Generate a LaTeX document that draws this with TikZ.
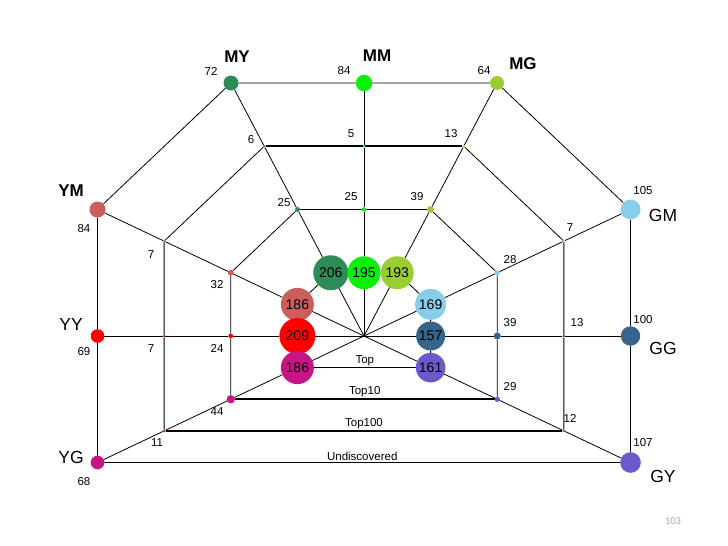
\documentclass[tikz,border=0pt]{standalone}
\usepackage{fontspec}
\setmainfont{Liberation Sans}
\newfontfamily\pgnumfont{Carlito}
\usetikzlibrary{calc,backgrounds}
\definecolor{cMY}{RGB}{46,139,87}
\definecolor{cMM}{RGB}{10,240,10}
\definecolor{cMG}{RGB}{154,205,50}
\definecolor{cYM}{RGB}{205,92,92}
\definecolor{cYY}{RGB}{255,0,0}
\definecolor{cYG}{RGB}{199,21,133}
\definecolor{cGM}{RGB}{135,206,235}
\definecolor{cGG}{RGB}{54,100,139}
\definecolor{cGY}{RGB}{106,90,205}
\definecolor{pggray}{RGB}{165,165,165}
\tikzset{
  ln/.style={line width=0.8pt},
  thk/.style={line width=1.7pt},
  ball/.style={circle, inner sep=0pt, outer sep=0pt},
  cnt/.style={font=\fontsize{11.5}{12}\selectfont, inner sep=0pt},
  lvl/.style={font=\fontsize{11.5}{12}\selectfont, inner sep=1.5pt},
  lbl/.style={font=\fontsize{17.5}{18}\selectfont, inner sep=0pt},
  lblb/.style={font=\bfseries\fontsize{17}{18}\selectfont, inner sep=0pt},
  bignum/.style={font=\fontsize{14}{15}\selectfont},
}
\newcommand\brnch[7]{%
  \node[ball,fill=#2,minimum size={2*#7pt}] (#14) at (p#1) {};
  \node[ball,fill=#2,minimum size={2*#6pt}] (#13) at ($(C)!0.75!(p#1)$) {};
  \node[ball,fill=#2,minimum size={2*#5pt}] (#12) at ($(C)!0.5!(p#1)$) {};
  \node[ball,fill=#2,minimum size={2*#3pt},bignum] (#11) at ($(C)!0.25!(p#1)$) {#4};
}
\begin{document}
\begin{tikzpicture}[x=1pt,y=-1pt]
\useasboundingbox (0,0) rectangle (728,546);
\coordinate (C) at (364,336);
\coordinate (pMY) at (231,83);
\coordinate (pMM) at (364,83);
\coordinate (pMG) at (497,83);
\coordinate (pYM) at (97.5,209.5);
\coordinate (pGM) at (630.5,209.5);
\coordinate (pYY) at (97.5,336);
\coordinate (pGG) at (630.5,336);
\coordinate (pYG) at (97.5,462.5);
\coordinate (pGY) at (630.5,462.5);

% branches: name, colour, r(Top), number, r(Top10), r(Top100), r(outer)
\brnch{MY}{cMY}{17.5}{206}{2.5}{1.4}{7.5}
\brnch{MM}{cMM}{16.5}{195}{2.3}{1.3}{8.2}
\brnch{MG}{cMG}{16.5}{193}{3.5}{1.5}{7}
\brnch{YM}{cYM}{16.5}{186}{3}{1.3}{8}
\brnch{YY}{cYY}{18}{209}{2.4}{1.3}{6.8}
\brnch{YG}{cYG}{16.5}{186}{4.2}{1.5}{6.8}
\brnch{GM}{cGM}{15.5}{169}{2.6}{1.3}{10}
\brnch{GG}{cGG}{14.5}{157}{3.5}{1.5}{9.7}
\brnch{GY}{cGY}{14.8}{161}{2.7}{1.5}{10.3}

\begin{pgfonlayer}{background}
  \foreach \b in {MY,MM,MG,YM,YY,YG,GM,GG,GY}
    \draw[ln] (C) -- (\b1) -- (\b2) -- (\b3) -- (\b4);
  \foreach \k in {1,2,4}
    \draw[ln] (YG\k) -- (YY\k) -- (YM\k) -- (MY\k) -- (MM\k) -- (MG\k) -- (GM\k) -- (GG\k) -- (GY\k);
  \draw[ln] (YG3) -- (YY3) -- (YM3) -- (MY3);
  \draw[thk] (MY3) -- (MM3) -- (MG3);
  \draw[ln] (MG3) -- (GM3) -- (GG3) -- (GY3);
  \draw[ln] (YG1) -- node[lvl,above] {Top} (GY1);
  \draw[thk] (YG2) -- node[lvl,above] {Top10} (GY2);
  \draw[thk] (YG3) -- node[lvl,above] {Top100} (GY3);
  \draw[ln] (YG4) -- node[lvl,above] {Undiscovered} (GY4);
\end{pgfonlayer}

% outer names
\node[lblb] (tMY) at (237,57) {MY};
\node[lblb] (tMM) at (377,56) {MM};
\node[lblb] (tMG) at (523,64) {MG};
\node[lblb] (tYM) at (71,191) {YM};
\node[lbl] (tGM) at (663,215) {GM};
\node[lbl] (tYY) at (71,324) {YY};
\node[lbl] (tGG) at (663,348) {GG};
\node[lbl] (tYG) at (71,457) {YG};
\node[lbl] (tGY) at (663,476) {GY};

% outer counts
\node[cnt] (cMY4) at (211,71) {72};
\node[cnt] (cMM4) at (344,71) {84};
\node[cnt] (cMG4) at (484,71) {64};
\node[cnt] (cYM4) at (84,229) {84};
\node[cnt] (cGM4) at (643,191) {105};
\node[cnt] (cYY4) at (84,352) {69};
\node[cnt] (cGG4) at (643,320) {100};
\node[cnt] (cYG4) at (84,482) {68};
\node[cnt] (cGY4) at (643,443) {107};

% Top100 counts
\node[cnt] (cMY3) at (251,140) {6};
\node[cnt] (cMM3) at (351,134) {5};
\node[cnt] (cMG3) at (451,134) {13};
\node[cnt] (cYM3) at (151,255) {7};
\node[cnt] (cGM3) at (570,228) {7};
\node[cnt] (cYY3) at (151,349) {7};
\node[cnt] (cGG3) at (577,323) {13};
\node[cnt] (cYG3) at (157,443) {11};
\node[cnt] (cGY3) at (570,418) {12};

% Top10 counts
\node[cnt] (cMY2) at (284,203) {25};
\node[cnt] (cMM2) at (351,197) {25};
\node[cnt] (cMG2) at (417,197) {39};
\node[cnt] (cYM2) at (217,285) {32};
\node[cnt] (cGM2) at (510,260) {28};
\node[cnt] (cYY2) at (217,348) {24};
\node[cnt] (cGG2) at (510,323) {39};
\node[cnt] (cYG2) at (217,412) {44};
\node[cnt] (cGY2) at (510,387) {29};

% page number
\node[font=\pgnumfont\fontsize{10.5}{12}\selectfont, text=pggray, inner sep=0pt] (pgno) at (673,521) {103};
\end{tikzpicture}
\end{document}
